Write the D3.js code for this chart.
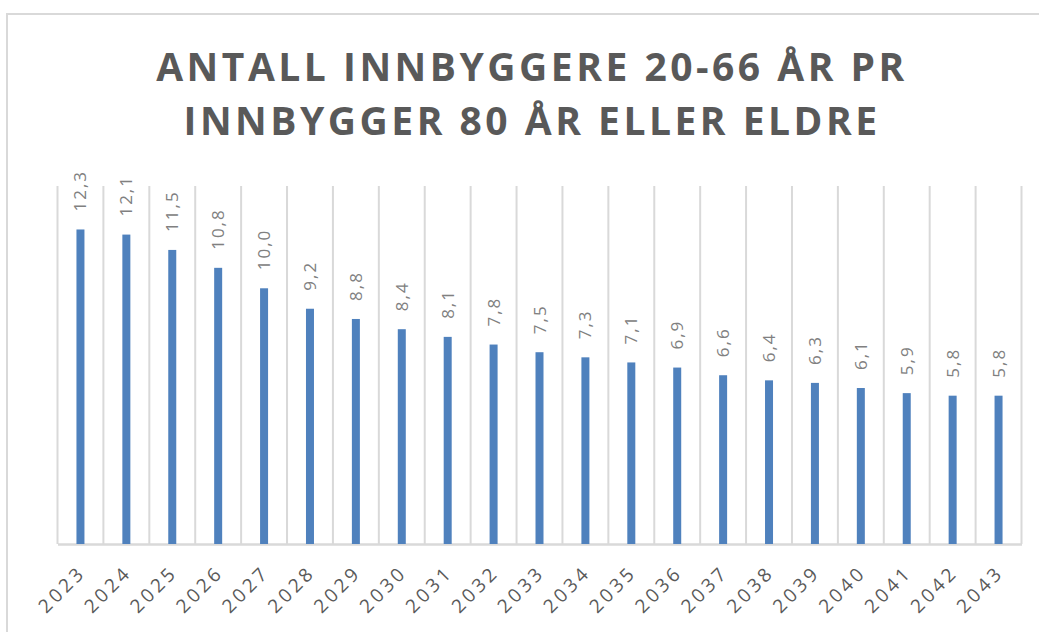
<!DOCTYPE html>
<html>
<head>
<meta charset="utf-8">
<script src="https://cdn.jsdelivr.net/npm/d3@7"></script>
<style>
  body { margin: 0; background: #fff; }
  svg { display: block; }
</style>
</head>
<body>
<div id="chart"></div>
<script>
// data -----------------------------------
var years = ['2023', '2024', '2025', '2026', '2027', '2028', '2029', '2030', '2031', '2032', '2033',
  '2034', '2035', '2036', '2037', '2038', '2039', '2040', '2041', '2042', '2043']
var values = [12.3, 12.1, 11.5, 10.8, 10.0, 9.2, 8.8, 8.4, 8.1, 7.8, 7.5, 7.3, 7.1, 6.9, 6.6, 6.4, 6.3, 6.1, 5.9, 5.8, 5.8]
var titleLines = ['ANTALL INNBYGGERE 20-66 ÅR PR', 'INNBYGGER 80 ÅR ELLER ELDRE']
var yMax = 14

var width = 1039
var height = 632
var margin = {top: 186, right: 17.5, bottom: 87, left: 57.5}

var svg = d3.select('#chart').append('svg')
  .attr('width', width)
  .attr('height', height)

svg.append('rect')
  .attr('width', width).attr('height', height)
  .attr('fill', '#fff')

// ytre ramme
svg.append('rect')
  .attr('x', 7).attr('y', 14)
  .attr('width', 1200).attr('height', 800)
  .attr('fill', 'none')
  .attr('stroke', '#d9d9d9')
  .attr('stroke-width', 2)

var x = d3.scaleBand().domain(years).range([margin.left, width - margin.right]).padding(0)
var y = d3.scaleLinear().domain([0, yMax]).range([height - margin.bottom - 1, margin.top])

var locale = d3.formatLocale({decimal: ',', thousands: ' ', grouping: [3], currency: ['', ' kr']})
var fmt = locale.format('.1f')

// tittel
svg.append('g').selectAll('text')
  .data(titleLines)
  .enter()
  .append('text')
  .attr('x', 532)
  .attr('y', function (d, i) { return 81 + i * 54 })
  .attr('text-anchor', 'middle')
  .attr('fill', '#595959')
  .attr('style', 'font: bold 39px "Open Sans"; letter-spacing: 3.5px')
  .text(function (d) { return d })

// loddrette rutenett
var bounds = years.map(function (d) { return x(d) }).concat([x.range()[1]])
svg.append('g').selectAll('line')
  .data(bounds)
  .enter()
  .append('line')
  .attr('x1', function (d) { return d })
  .attr('x2', function (d) { return d })
  .attr('y1', y(yMax))
  .attr('y2', y(0))
  .attr('stroke', '#d9d9d9')
  .attr('stroke-width', 2)

// x-akse
var xAxis = d3.axisBottom(x).tickSize(0).tickPadding(0)
var axisX = svg.append('g')
  .attr('transform', 'translate(0,' + y(0) + ')')
  .call(xAxis)
axisX.select('.domain')
  .attr('stroke', '#d9d9d9')
  .attr('stroke-width', 2.5)
axisX.selectAll('text')
  .attr('y', 0)
  .attr('dy', 0)
  .attr('dx', 3.5)
  .attr('text-anchor', 'end')
  .attr('transform', 'translate(4,32) rotate(-45)')
  .attr('fill', '#595959')
  .attr('style', 'font: 19px "Open Sans"; letter-spacing: 3.5px')

// stolper
var bw = 8
svg.append('g').selectAll('rect')
  .data(values)
  .enter()
  .append('rect')
  .attr('x', function (d, i) { return x(years[i]) + x.bandwidth() / 2 - bw / 2 })
  .attr('y', function (d) { return y(d) })
  .attr('width', bw)
  .attr('height', function (d) { return y(0) - y(d) })
  .attr('fill', '#4f81bd')

// dataetiketter
svg.append('g').selectAll('text')
  .data(values)
  .enter()
  .append('text')
  .attr('transform', function (d, i) {
    return 'translate(' + (x(years[i]) + x.bandwidth() / 2 + 6) + ',' + (y(d) - 18) + ') rotate(-90)'
  })
  .attr('text-anchor', 'start')
  .attr('fill', '#808080')
  .attr('style', 'font: 17px "Open Sans"; letter-spacing: 2px')
  .text(function (d) { return fmt(d) })
</script>
</body>
</html>
